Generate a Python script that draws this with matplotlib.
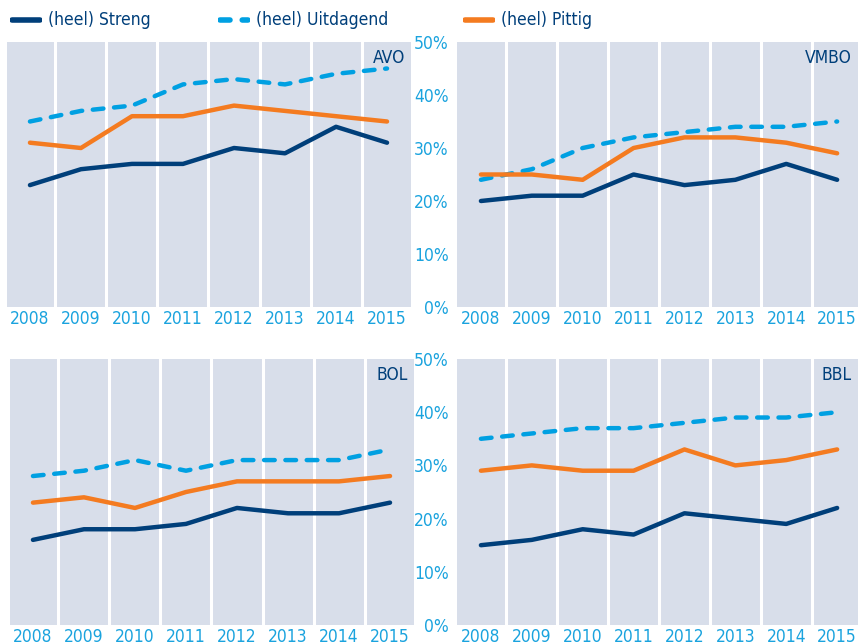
import matplotlib
matplotlib.use('Agg')
import matplotlib.pyplot as plt
from matplotlib.lines import Line2D
from matplotlib.ticker import FuncFormatter

plt.rcParams['font.family'] = ['DejaVu Sans']
plt.rcParams['font.stretch'] = 'condensed'

years = ['2008', '2009', '2010', '2011', '2012', '2013', '2014', '2015']
series_names = ['(heel) Streng', '(heel) Uitdagend', '(heel) Pittig']

# percentages per panel
avo_streng = [23, 26, 27, 27, 30, 29, 34, 31]
avo_uitdagend = [35, 37, 38, 42, 43, 42, 44, 45]
avo_pittig = [31, 30, 36, 36, 38, 37, 36, 35]

vmbo_streng = [20, 21, 21, 25, 23, 24, 27, 24]
vmbo_uitdagend = [24, 26, 30, 32, 33, 34, 34, 35]
vmbo_pittig = [25, 25, 24, 30, 32, 32, 31, 29]

bol_streng = [16, 18, 18, 19, 22, 21, 21, 23]
bol_uitdagend = [28, 29, 31, 29, 31, 31, 31, 33]
bol_pittig = [23, 24, 22, 25, 27, 27, 27, 28]

bbl_streng = [15, 16, 18, 17, 21, 20, 19, 22]
bbl_uitdagend = [35, 36, 37, 37, 38, 39, 39, 40]
bbl_pittig = [29, 30, 29, 29, 33, 30, 31, 33]

navy = '#003f7a'
cyan = '#00a0e2'
orange = '#f47b20'
bg = '#d8deea'
tick_col = '#1aa3de'

W, H = 858, 643
fig = plt.figure(figsize=(W / 100, H / 100), dpi=100)

# panel boxes in pixels: left, top, right, bottom
panels = [
    ('AVO', (7, 42, 411, 307), avo_streng, avo_uitdagend, avo_pittig, False),
    ('VMBO', (457, 42, 858, 307), vmbo_streng, vmbo_uitdagend, vmbo_pittig, True),
    ('BOL', (10, 359, 414, 625), bol_streng, bol_uitdagend, bol_pittig, False),
    ('BBL', (457, 359, 858, 625), bbl_streng, bbl_uitdagend, bbl_pittig, True),
]

x = list(range(len(years)))
for name, (l, t, r, b), streng, uitdagend, pittig, ylab in panels:
    ax = fig.add_axes([l / W, 1 - b / H, (r - l) / W, (b - t) / H])
    ax.set_facecolor(bg)
    for i in range(len(years) - 1):
        ax.axvline(i + 0.5, color='white', lw=2.2, zorder=1)
    ax.plot(x, uitdagend, color=cyan, lw=3.2, dashes=(2.4, 2.4),
            dash_capstyle='round', zorder=3)
    ax.plot(x, pittig, color=orange, lw=3.2, solid_capstyle='round', zorder=3)
    ax.plot(x, streng, color=navy, lw=3.2, solid_capstyle='round', zorder=3)
    if ylab:
        ax.set_xlim(-0.47, 7.41)
    else:
        ax.set_xlim(-0.45, 7.47)
    ax.set_ylim(0, 50)
    ax.set_xticks(x)
    ax.set_xticklabels(years)
    ax.set_yticks(range(0, 51, 10))
    ax.yaxis.set_major_formatter(FuncFormatter(lambda v, p: f'{int(v)}%'))
    ax.tick_params(length=0, colors=tick_col, labelsize=12.5, pad=2.5)
    if not ylab:
        ax.tick_params(axis='y', labelleft=False)
    else:
        ax.tick_params(axis='y', pad=6)
    for s in ax.spines.values():
        s.set_visible(False)
    ax.text(0.985, 0.975, name, transform=ax.transAxes, ha='right', va='top',
            color=navy, fontsize=12.5)

handles = [
    Line2D([], [], color=navy, lw=4, solid_capstyle='round'),
    Line2D([], [], color=cyan, lw=4, dashes=(1.8, 2.2), dash_capstyle='round'),
    Line2D([], [], color=orange, lw=4, solid_capstyle='round'),
]
leg_x = [10, 218, 463]
for hx, h, lab in zip(leg_x, handles, series_names):
    lax = fig.add_axes([hx / W, 1 - 30 / H, 32 / W, 20 / H])
    lax.set_axis_off()
    lax.set_xlim(0, 1)
    lax.set_ylim(0, 1)
    h.set_data([0.05, 0.95], [0.5, 0.5])
    lax.add_line(h)
    fig.text((hx + 38) / W, 1 - 20 / H, lab, color=navy, fontsize=12.5,
             ha='left', va='center')

fig.savefig('out.png', dpi=100, facecolor='white')
